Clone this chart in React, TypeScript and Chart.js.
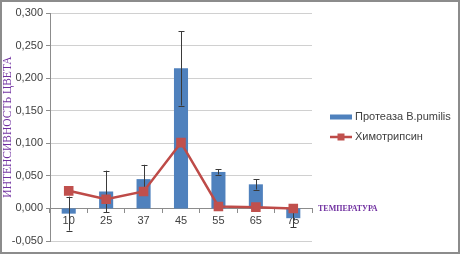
import React, { useEffect, useRef } from "react";
import { Chart, registerables } from "chart.js";

Chart.register(...registerables);

const categories = ["10", "25", "37", "45", "55", "65", "75"];
const proteaseValues = [-0.008, 0.026, 0.045, 0.215, 0.056, 0.037, -0.015];
const proteaseErrors = [0.026, 0.032, 0.022, 0.057, 0.004, 0.008, 0.014];
const chymotrypsinValues = [0.027, 0.014, 0.026, 0.101, 0.003, 0.002, 0.0];
const seriesLabels = ["Протеаза B.pumilis", "Химотрипсин"];
const yAxisTitle = "ИНТЕНСИВНОСТЬ ЦВЕТА";
const xAxisTitle = "ТЕМПЕРАТУРА";
const yMin = -0.05;
const yMax = 0.3;
const yStep = 0.05;

const BAR_COLOR = "#4F81BD";
const LINE_COLOR = "#BE4B48";
const TITLE_COLOR = "#7030A0";
const TEXT_COLOR = "#404040";
const FONT = "'Liberation Sans', Arial, sans-serif";

const framePlugin = {
  id: "frame",
  beforeDraw(chart: any) {
    const { ctx, width, height } = chart;
    ctx.save();
    ctx.fillStyle = "#ffffff";
    ctx.fillRect(0, 0, width, height);
    ctx.restore();
  },
  afterDraw(chart: any) {
    const { ctx, width, height } = chart;
    ctx.save();
    ctx.strokeStyle = "#8c8c8c";
    ctx.lineWidth = 2;
    ctx.strokeRect(1, 1, width - 2, height - 2);
    ctx.restore();
  },
};

const errorBarPlugin = {
  id: "errorBars",
  afterDatasetDraw(chart: any, args: any) {
    if (args.index !== 0) return;
    const meta = chart.getDatasetMeta(0);
    const y = chart.scales.y;
    const ctx = chart.ctx;
    ctx.save();
    ctx.strokeStyle = "#3a3a3a";
    ctx.lineWidth = 1;
    meta.data.forEach((bar: any, i: number) => {
      const v = proteaseValues[i];
      const e = proteaseErrors[i];
      const x = Math.round(bar.x) + 0.5;
      const top = y.getPixelForValue(v + e);
      const bot = y.getPixelForValue(v - e);
      ctx.beginPath();
      ctx.moveTo(x, top);
      ctx.lineTo(x, bot);
      ctx.moveTo(x - 3, Math.round(top) + 0.5);
      ctx.lineTo(x + 3, Math.round(top) + 0.5);
      ctx.moveTo(x - 3, Math.round(bot) + 0.5);
      ctx.lineTo(x + 3, Math.round(bot) + 0.5);
      ctx.stroke();
    });
    ctx.restore();
  },
};

const annotationPlugin = {
  id: "annotations",
  afterDraw(chart: any) {
    const { ctx } = chart;
    const area = chart.chartArea;
    const y = chart.scales.y;
    ctx.save();
    // x axis title next to the zero line
    ctx.fillStyle = TITLE_COLOR;
    ctx.font = "bold 8px 'Liberation Serif', 'Times New Roman', serif";
    ctx.textAlign = "left";
    ctx.textBaseline = "middle";
    ctx.fillText(xAxisTitle, area.right + 6, y.getPixelForValue(0) + 1);

    // legend
    const lx = area.right + 18;
    const ly0 = 117;
    const gap = 20;
    ctx.font = `11px ${FONT}`;
    ctx.fillStyle = TEXT_COLOR;
    chart.data.datasets.forEach((ds: any, i: number) => {
      const yy = ly0 + i * gap;
      if (ds.type === "line") {
        ctx.strokeStyle = ds.borderColor;
        ctx.lineWidth = 2.5;
        ctx.beginPath();
        ctx.moveTo(lx, yy);
        ctx.lineTo(lx + 22, yy);
        ctx.stroke();
        ctx.fillStyle = ds.pointBackgroundColor;
        ctx.fillRect(lx + 11 - 3.5, yy - 3.5, 7, 7);
      } else {
        ctx.fillStyle = ds.backgroundColor;
        ctx.fillRect(lx, yy - 2.5, 22, 5);
      }
      ctx.fillStyle = TEXT_COLOR;
      ctx.textBaseline = "middle";
      ctx.fillText(ds.label, lx + 25, yy);
    });
    ctx.restore();
  },
};

export default function App() {
  const canvasRef = useRef<HTMLCanvasElement | null>(null);

  useEffect(() => {
    document.body.style.margin = "0";
    const canvas = canvasRef.current;
    if (!canvas) return;
    const chart = new Chart(canvas, {
      type: "bar",
      data: {
        labels: categories,
        datasets: [
          {
            type: "bar",
            label: seriesLabels[0],
            data: proteaseValues,
            backgroundColor: BAR_COLOR,
            borderWidth: 0,
            barPercentage: 0.47,
            categoryPercentage: 0.8,
            order: 2,
          } as any,
          {
            type: "line",
            label: seriesLabels[1],
            data: chymotrypsinValues,
            borderColor: LINE_COLOR,
            borderWidth: 2.5,
            pointStyle: "rect",
            pointRadius: 5,
            pointBackgroundColor: "#C0504D",
            pointBorderColor: "#C0504D",
            tension: 0,
            order: 1,
          } as any,
        ],
      },
      options: {
        animation: false,
        responsive: false,
        devicePixelRatio: 1,
        layout: { padding: { top: 13, bottom: 13, left: 0, right: 148 } },
        plugins: {
          legend: { display: false },
          tooltip: { enabled: false },
        },
        scales: {
          x: {
            position: { y: 0 } as any,
            offset: true,
            grid: {
              drawOnChartArea: false,
              drawTicks: true,
              tickLength: 4,
              color: "#8c8c8c",
              offset: true,
            },
            border: { color: "#8c8c8c", width: 1 },
            ticks: {
              color: TEXT_COLOR,
              font: { family: FONT, size: 11 },
              padding: 2,
              maxRotation: 0,
            },
          },
          y: {
            min: yMin,
            max: yMax,
            afterFit(scale: any) {
              scale.width = 50;
            },
            ticks: {
              stepSize: yStep,
              color: TEXT_COLOR,
              font: { family: FONT, size: 11 },
              padding: 3,
              callback: (v: any) => {
                const n = Math.round(Number(v) * 1000) / 1000;
                return (n === 0 ? 0 : n).toFixed(3).replace(".", ",");
              },
            },
            grid: {
              color: "#d0d0d0",
              tickLength: 4,
              tickColor: "#8c8c8c",
            },
            border: { color: "#8c8c8c", width: 1 },
            title: {
              display: true,
              text: yAxisTitle,
              color: TITLE_COLOR,
              font: { family: "'Liberation Serif', 'Times New Roman', serif", size: 11.5 },
              padding: { top: 1, bottom: 0 },
            },
          },
        },
      },
      plugins: [framePlugin, errorBarPlugin, annotationPlugin],
    });
    return () => chart.destroy();
  }, []);

  return (
    <div style={{ position: "absolute", left: 0, top: 0, width: 460, height: 254 }}>
      <canvas ref={canvasRef} width={460} height={254} style={{ display: "block" }} />
    </div>
  );
}
